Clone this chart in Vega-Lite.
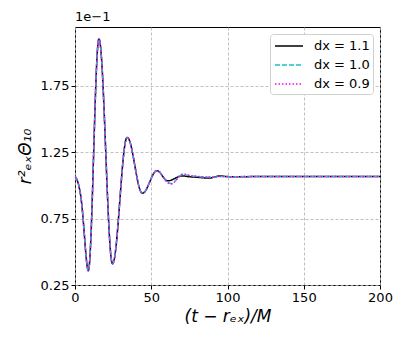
{
  "$schema": "https://vega.github.io/schema/vega-lite/v6.json",
  "width": 305,
  "height": 258,
  "autosize": {"type": "none"},
  "padding": {"left": 75, "top": 27, "right": 27, "bottom": 54},
  "background": "white",
  "title": {"text": "1e−1", "anchor": "start", "frame": "group", "fontSize": 13, "fontWeight": "normal", "font": "DejaVu Sans", "color": "black", "offset": 3},
  "config": {
    "font": "DejaVu Sans",
    "view": {"stroke": "black", "strokeWidth": 1},
    "axis": {
      "labelFontSize": 13, "labelColor": "black", "tickColor": "black", "tickSize": 4, "labelFlush": false,
      "domain": false, "gridColor": "#b0b0b0", "gridDash": [3, 2], "gridWidth": 0.8,
      "titleFontSize": 17, "titleFontWeight": "normal", "titleColor": "black"
    },
    "legend": {
      "orient": "top-right", "offset": 7, "fillColor": "white", "strokeColor": "#d0d0d0",
      "cornerRadius": 3, "padding": 3, "labelFontSize": 13, "labelColor": "black",
      "symbolType": "M-1.75,0H1.75", "symbolSize": 256, "symbolStrokeWidth": 1.5, "rowPadding": 3,
      "symbolOffset": 7, "labelOffset": 16
    }
  },
  "data": {"values": [
    {"t":0,"v":1.065,"s":"dx = 1.1"},{"t":1,"v":1.05,"s":"dx = 1.1"},{"t":2,"v":1.02,"s":"dx = 1.1"},{"t":3,"v":0.97,"s":"dx = 1.1"},{"t":4,"v":0.9,"s":"dx = 1.1"},{"t":5,"v":0.79,"s":"dx = 1.1"},{"t":6,"v":0.65,"s":"dx = 1.1"},{"t":7,"v":0.5,"s":"dx = 1.1"},{"t":8,"v":0.39,"s":"dx = 1.1"},{"t":8.7,"v":0.357,"s":"dx = 1.1"},
    {"t":9.58,"v":0.423,"s":"dx = 1.1"},{"t":10.45,"v":0.611,"s":"dx = 1.1"},{"t":11.33,"v":0.896,"s":"dx = 1.1"},{"t":12.2,"v":1.229,"s":"dx = 1.1"},{"t":13.08,"v":1.561,"s":"dx = 1.1"},{"t":13.95,"v":1.846,"s":"dx = 1.1"},{"t":14.83,"v":2.034,"s":"dx = 1.1"},{"t":15.7,"v":2.1,"s":"dx = 1.1"},
    {"t":16.81,"v":2.036,"s":"dx = 1.1"},{"t":17.93,"v":1.853,"s":"dx = 1.1"},{"t":19.04,"v":1.578,"s":"dx = 1.1"},{"t":20.15,"v":1.255,"s":"dx = 1.1"},{"t":21.26,"v":0.932,"s":"dx = 1.1"},{"t":22.38,"v":0.657,"s":"dx = 1.1"},{"t":23.49,"v":0.474,"s":"dx = 1.1"},{"t":24.6,"v":0.41,"s":"dx = 1.1"},
    {"t":25.8,"v":0.446,"s":"dx = 1.1"},{"t":27,"v":0.549,"s":"dx = 1.1"},{"t":28.2,"v":0.704,"s":"dx = 1.1"},{"t":29.4,"v":0.885,"s":"dx = 1.1"},{"t":30.6,"v":1.066,"s":"dx = 1.1"},{"t":31.8,"v":1.221,"s":"dx = 1.1"},{"t":33,"v":1.324,"s":"dx = 1.1"},{"t":34.2,"v":1.36,"s":"dx = 1.1"},
    {"t":35.45,"v":1.344,"s":"dx = 1.1"},{"t":36.7,"v":1.299,"s":"dx = 1.1"},{"t":37.95,"v":1.23,"s":"dx = 1.1"},{"t":39.2,"v":1.15,"s":"dx = 1.1"},{"t":40.45,"v":1.07,"s":"dx = 1.1"},{"t":41.7,"v":1.001,"s":"dx = 1.1"},{"t":42.95,"v":0.956,"s":"dx = 1.1"},{"t":44.2,"v":0.94,"s":"dx = 1.1"},
    {"t":45.4,"v":0.946,"s":"dx = 1.1"},{"t":46.6,"v":0.965,"s":"dx = 1.1"},{"t":47.8,"v":0.993,"s":"dx = 1.1"},{"t":49,"v":1.025,"s":"dx = 1.1"},{"t":50.2,"v":1.057,"s":"dx = 1.1"},{"t":51.4,"v":1.085,"s":"dx = 1.1"},{"t":52.6,"v":1.104,"s":"dx = 1.1"},{"t":53.8,"v":1.11,"s":"dx = 1.1"},
    {"t":55.5,"v":1.099,"s":"dx = 1.1"},{"t":57.2,"v":1.072,"s":"dx = 1.1"},{"t":58.9,"v":1.046,"s":"dx = 1.1"},{"t":60.6,"v":1.033,"s":"dx = 1.1"},{"t":63.1,"v":1.038,"s":"dx = 1.1"},{"t":65.5,"v":1.052,"s":"dx = 1.1"},{"t":68,"v":1.065,"s":"dx = 1.1"},{"t":70.5,"v":1.07,"s":"dx = 1.1"},
    {"t":75,"v":1.064,"s":"dx = 1.1"},{"t":80,"v":1.06,"s":"dx = 1.1"},{"t":84,"v":1.056,"s":"dx = 1.1"},{"t":88,"v":1.054,"s":"dx = 1.1"},{"t":92,"v":1.064,"s":"dx = 1.1"},{"t":95,"v":1.07,"s":"dx = 1.1"},{"t":99,"v":1.066,"s":"dx = 1.1"},{"t":105,"v":1.064,"s":"dx = 1.1"},{"t":110,"v":1.064,"s":"dx = 1.1"},{"t":120,"v":1.066,"s":"dx = 1.1"},{"t":140,"v":1.065,"s":"dx = 1.1"},{"t":160,"v":1.065,"s":"dx = 1.1"},{"t":180,"v":1.065,"s":"dx = 1.1"},{"t":200,"v":1.065,"s":"dx = 1.1"},

    {"t":0,"v":1.065,"s":"dx = 1.0"},{"t":1,"v":1.05,"s":"dx = 1.0"},{"t":2,"v":1.02,"s":"dx = 1.0"},{"t":3,"v":0.97,"s":"dx = 1.0"},{"t":4,"v":0.9,"s":"dx = 1.0"},{"t":5,"v":0.79,"s":"dx = 1.0"},{"t":6,"v":0.65,"s":"dx = 1.0"},{"t":7,"v":0.5,"s":"dx = 1.0"},{"t":8,"v":0.39,"s":"dx = 1.0"},{"t":8.7,"v":0.357,"s":"dx = 1.0"},
    {"t":9.58,"v":0.423,"s":"dx = 1.0"},{"t":10.45,"v":0.611,"s":"dx = 1.0"},{"t":11.33,"v":0.896,"s":"dx = 1.0"},{"t":12.2,"v":1.229,"s":"dx = 1.0"},{"t":13.08,"v":1.561,"s":"dx = 1.0"},{"t":13.95,"v":1.846,"s":"dx = 1.0"},{"t":14.83,"v":2.034,"s":"dx = 1.0"},{"t":15.7,"v":2.1,"s":"dx = 1.0"},
    {"t":16.81,"v":2.036,"s":"dx = 1.0"},{"t":17.93,"v":1.853,"s":"dx = 1.0"},{"t":19.04,"v":1.578,"s":"dx = 1.0"},{"t":20.15,"v":1.255,"s":"dx = 1.0"},{"t":21.26,"v":0.932,"s":"dx = 1.0"},{"t":22.38,"v":0.657,"s":"dx = 1.0"},{"t":23.49,"v":0.474,"s":"dx = 1.0"},{"t":24.6,"v":0.41,"s":"dx = 1.0"},
    {"t":25.8,"v":0.446,"s":"dx = 1.0"},{"t":27,"v":0.549,"s":"dx = 1.0"},{"t":28.2,"v":0.704,"s":"dx = 1.0"},{"t":29.4,"v":0.885,"s":"dx = 1.0"},{"t":30.6,"v":1.066,"s":"dx = 1.0"},{"t":31.8,"v":1.221,"s":"dx = 1.0"},{"t":33,"v":1.324,"s":"dx = 1.0"},{"t":34.2,"v":1.36,"s":"dx = 1.0"},
    {"t":35.45,"v":1.344,"s":"dx = 1.0"},{"t":36.7,"v":1.299,"s":"dx = 1.0"},{"t":37.95,"v":1.23,"s":"dx = 1.0"},{"t":39.2,"v":1.15,"s":"dx = 1.0"},{"t":40.45,"v":1.07,"s":"dx = 1.0"},{"t":41.7,"v":1.001,"s":"dx = 1.0"},{"t":42.95,"v":0.956,"s":"dx = 1.0"},{"t":44.2,"v":0.94,"s":"dx = 1.0"},
    {"t":45.4,"v":0.946,"s":"dx = 1.0"},{"t":46.6,"v":0.965,"s":"dx = 1.0"},{"t":47.8,"v":0.993,"s":"dx = 1.0"},{"t":49,"v":1.025,"s":"dx = 1.0"},{"t":50.2,"v":1.057,"s":"dx = 1.0"},{"t":51.4,"v":1.085,"s":"dx = 1.0"},{"t":52.6,"v":1.104,"s":"dx = 1.0"},{"t":53.8,"v":1.11,"s":"dx = 1.0"},
    {"t":55.5,"v":1.099,"s":"dx = 1.0"},{"t":57.5,"v":1.066,"s":"dx = 1.0"},{"t":59.5,"v":1.036,"s":"dx = 1.0"},{"t":61.5,"v":1.018,"s":"dx = 1.0"},{"t":63.3,"v":1.013,"s":"dx = 1.0"},{"t":65,"v":1.025,"s":"dx = 1.0"},{"t":67,"v":1.05,"s":"dx = 1.0"},{"t":69,"v":1.073,"s":"dx = 1.0"},{"t":71,"v":1.082,"s":"dx = 1.0"},{"t":73,"v":1.078,"s":"dx = 1.0"},
    {"t":76,"v":1.07,"s":"dx = 1.0"},{"t":80,"v":1.066,"s":"dx = 1.0"},{"t":85,"v":1.062,"s":"dx = 1.0"},{"t":90,"v":1.06,"s":"dx = 1.0"},{"t":95,"v":1.066,"s":"dx = 1.0"},{"t":100,"v":1.064,"s":"dx = 1.0"},{"t":110,"v":1.065,"s":"dx = 1.0"},{"t":120,"v":1.066,"s":"dx = 1.0"},{"t":140,"v":1.065,"s":"dx = 1.0"},{"t":160,"v":1.065,"s":"dx = 1.0"},{"t":180,"v":1.065,"s":"dx = 1.0"},{"t":200,"v":1.065,"s":"dx = 1.0"},

    {"t":0,"v":1.065,"s":"dx = 0.9"},{"t":1,"v":1.05,"s":"dx = 0.9"},{"t":2,"v":1.02,"s":"dx = 0.9"},{"t":3,"v":0.97,"s":"dx = 0.9"},{"t":4,"v":0.9,"s":"dx = 0.9"},{"t":5,"v":0.79,"s":"dx = 0.9"},{"t":6,"v":0.65,"s":"dx = 0.9"},{"t":7,"v":0.5,"s":"dx = 0.9"},{"t":8,"v":0.39,"s":"dx = 0.9"},{"t":8.7,"v":0.357,"s":"dx = 0.9"},
    {"t":9.58,"v":0.423,"s":"dx = 0.9"},{"t":10.45,"v":0.611,"s":"dx = 0.9"},{"t":11.33,"v":0.896,"s":"dx = 0.9"},{"t":12.2,"v":1.229,"s":"dx = 0.9"},{"t":13.08,"v":1.561,"s":"dx = 0.9"},{"t":13.95,"v":1.846,"s":"dx = 0.9"},{"t":14.83,"v":2.034,"s":"dx = 0.9"},{"t":15.7,"v":2.1,"s":"dx = 0.9"},
    {"t":16.81,"v":2.036,"s":"dx = 0.9"},{"t":17.93,"v":1.853,"s":"dx = 0.9"},{"t":19.04,"v":1.578,"s":"dx = 0.9"},{"t":20.15,"v":1.255,"s":"dx = 0.9"},{"t":21.26,"v":0.932,"s":"dx = 0.9"},{"t":22.38,"v":0.657,"s":"dx = 0.9"},{"t":23.49,"v":0.474,"s":"dx = 0.9"},{"t":24.6,"v":0.41,"s":"dx = 0.9"},
    {"t":25.8,"v":0.446,"s":"dx = 0.9"},{"t":27,"v":0.549,"s":"dx = 0.9"},{"t":28.2,"v":0.704,"s":"dx = 0.9"},{"t":29.4,"v":0.885,"s":"dx = 0.9"},{"t":30.6,"v":1.066,"s":"dx = 0.9"},{"t":31.8,"v":1.221,"s":"dx = 0.9"},{"t":33,"v":1.324,"s":"dx = 0.9"},{"t":34.2,"v":1.36,"s":"dx = 0.9"},
    {"t":35.45,"v":1.344,"s":"dx = 0.9"},{"t":36.7,"v":1.299,"s":"dx = 0.9"},{"t":37.95,"v":1.23,"s":"dx = 0.9"},{"t":39.2,"v":1.15,"s":"dx = 0.9"},{"t":40.45,"v":1.07,"s":"dx = 0.9"},{"t":41.7,"v":1.001,"s":"dx = 0.9"},{"t":42.95,"v":0.956,"s":"dx = 0.9"},{"t":44.2,"v":0.94,"s":"dx = 0.9"},
    {"t":45.4,"v":0.946,"s":"dx = 0.9"},{"t":46.6,"v":0.965,"s":"dx = 0.9"},{"t":47.8,"v":0.993,"s":"dx = 0.9"},{"t":49,"v":1.025,"s":"dx = 0.9"},{"t":50.2,"v":1.057,"s":"dx = 0.9"},{"t":51.4,"v":1.085,"s":"dx = 0.9"},{"t":52.6,"v":1.104,"s":"dx = 0.9"},{"t":53.8,"v":1.11,"s":"dx = 0.9"},
    {"t":55.5,"v":1.099,"s":"dx = 0.9"},{"t":57.5,"v":1.065,"s":"dx = 0.9"},{"t":59.5,"v":1.034,"s":"dx = 0.9"},{"t":61.5,"v":1.015,"s":"dx = 0.9"},{"t":63.5,"v":1.01,"s":"dx = 0.9"},{"t":65.2,"v":1.024,"s":"dx = 0.9"},{"t":67.2,"v":1.051,"s":"dx = 0.9"},{"t":69.2,"v":1.075,"s":"dx = 0.9"},{"t":71.2,"v":1.085,"s":"dx = 0.9"},{"t":73.2,"v":1.08,"s":"dx = 0.9"},
    {"t":76,"v":1.071,"s":"dx = 0.9"},{"t":80,"v":1.067,"s":"dx = 0.9"},{"t":85,"v":1.062,"s":"dx = 0.9"},{"t":90,"v":1.06,"s":"dx = 0.9"},{"t":95,"v":1.066,"s":"dx = 0.9"},{"t":100,"v":1.064,"s":"dx = 0.9"},{"t":110,"v":1.065,"s":"dx = 0.9"},{"t":120,"v":1.066,"s":"dx = 0.9"},{"t":140,"v":1.065,"s":"dx = 0.9"},{"t":160,"v":1.065,"s":"dx = 0.9"},{"t":180,"v":1.065,"s":"dx = 0.9"},{"t":200,"v":1.065,"s":"dx = 0.9"}
  ]},
  "mark": {"type": "line", "interpolate": "monotone", "strokeWidth": 1.5, "clip": true},
  "encoding": {
    "x": {"field": "t", "type": "quantitative", "scale": {"domain": [0, 200], "nice": false, "zero": false},
      "axis": {"values": [0, 50, 100, 150, 200], "title": "(t − rₑₓ)/M", "titleFontStyle": "italic", "titlePadding": 4}},
    "y": {"field": "v", "type": "quantitative", "scale": {"domain": [0.25, 2.19], "nice": false, "zero": false},
      "axis": {"values": [0.25, 0.75, 1.25, 1.75], "format": ".2f", "title": "r²ₑₓΘ₁₀", "titleFontStyle": "italic", "titlePadding": 6}},
    "color": {"field": "s", "type": "nominal", "title": null,
      "scale": {"domain": ["dx = 1.1", "dx = 1.0", "dx = 0.9"], "range": ["#000000", "#17c4c4", "#ff00ff"]}},
    "strokeDash": {"field": "s", "type": "nominal", "title": null,
      "scale": {"domain": ["dx = 1.1", "dx = 1.0", "dx = 0.9"], "range": [[1, 0], [5, 2], [1.5, 2]]}},
    "order": {"field": "t", "type": "quantitative"}
  }
}
